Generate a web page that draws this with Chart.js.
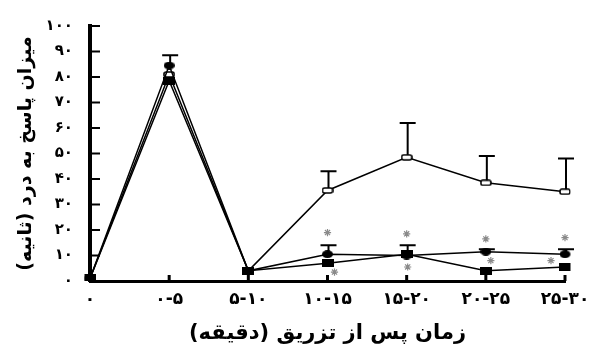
<!DOCTYPE html>
<html>
<head>
<meta charset="utf-8">
<script src="https://cdn.jsdelivr.net/npm/chart.js@4.4.1/dist/chart.umd.min.js"></script>
<style>
  html, body { margin: 0; padding: 0; background: #fff; }
  #wrap { width: 591px; height: 353px; }
</style>
</head>
<body>
<div id="wrap"><canvas id="c" width="591" height="353"></canvas></div>
<script>
// Time windows after injection (minutes)
const categories = ['۰', '۰-۵', '۵-۱۰', '۱۰-۱۵', '۱۵-۲۰', '۲۰-۲۵', '۲۵-۳۰'];
const yTickLabels = ['۰', '۱۰', '۲۰', '۳۰', '۴۰', '۵۰', '۶۰', '۷۰', '۸۰', '۹۰', '۱۰۰'];

// Pain response (seconds), mean and upper error
const openValues         = [1, 81, 4, 35.5, 48.5, 38.5, 35];
const openErrors         = [0, 0, 0, 7.5, 13.5, 10.5, 13];
const filledCircleValues = [1, 84.5, 4, 10.5, 10, 11.5, 10.5];
const filledCircleErrors = [0, 4, 0, 3.5, 0, 1, 2];
const filledSquareValues = [1, 78.5, 4, 7, 10.5, 4, 5.5];
const filledSquareErrors = [0, 0, 0, 0, 3.5, 0, 0];

// Significance marks (y value of each asterisk)
const starUpper = [null, null, null, 19, 18.5, 16.5, 17];
const starLower = [null, null, null, 3.5, 5.5, 8, 8];
const starLowerShift = [0, 0, 0, 7, 1, 5, -14];

const yTitle = '\u200Fمیزان پاسخ به درد (ثانیه)\u200F';
const xTitle = '\u200Fزمان پس از تزریق (دقیقه)\u200F';

function makeMarker(w, h, paint) {
  const c = document.createElement('canvas');
  c.width = w; c.height = h;
  paint(c.getContext('2d'), w, h);
  return c;
}
const openMarker = makeMarker(12, 7, (g, w, h) => {
  g.fillStyle = '#fff'; g.strokeStyle = '#000'; g.lineWidth = 1.6;
  g.beginPath(); g.roundRect(1, 1, w - 2, h - 2, 2); g.fill(); g.stroke();
});
const circleMarker = makeMarker(11, 8, (g, w, h) => {
  g.fillStyle = '#000';
  g.beginPath(); g.ellipse(w / 2, h / 2, w / 2, h / 2, 0, 0, Math.PI * 2); g.fill();
});
const squareMarker = makeMarker(12, 8, (g, w, h) => {
  g.fillStyle = '#000'; g.fillRect(0, 0, w, h);
});

const errorBars = {
  id: 'errorBars',
  beforeDatasetsDraw(chart) {
    const { ctx, scales: { y } } = chart;
    ctx.save();
    ctx.strokeStyle = '#000';
    ctx.lineWidth = 2;
    chart.data.datasets.forEach((ds, di) => {
      if (!ds.errors) return;
      const meta = chart.getDatasetMeta(di);
      ds.errors.forEach((e, i) => {
        if (!e) return;
        const x = meta.data[i].x + 1;
        const y0 = y.getPixelForValue(ds.data[i]);
        const y1 = y.getPixelForValue(ds.data[i] + e);
        ctx.beginPath();
        ctx.moveTo(x, y0); ctx.lineTo(x, y1);
        ctx.moveTo(x - 8, y1); ctx.lineTo(x + 8, y1);
        ctx.stroke();
      });
    });
    ctx.restore();
  }
};

const axisMarks = {
  id: 'axisMarks',
  afterDraw(chart) {
    const { ctx, chartArea: a, scales: { x, y } } = chart;
    ctx.save();
    ctx.strokeStyle = '#000';
    ctx.lineWidth = 2;
    y.ticks.forEach(t => {
      const py = y.getPixelForValue(t.value);
      ctx.beginPath(); ctx.moveTo(a.left, py); ctx.lineTo(a.left + 10, py); ctx.stroke();
    });
    ctx.lineWidth = 3;
    categories.forEach((c, i) => {
      const px = x.getPixelForValue(i);
      ctx.beginPath(); ctx.moveTo(px, a.bottom); ctx.lineTo(px, a.bottom - 6); ctx.stroke();
    });
    // asterisks
    ctx.strokeStyle = '#8a8a8a';
    ctx.lineWidth = 1.2;
    const star = (cx, cy) => {
      const r = 3.6;
      ctx.beginPath();
      for (let k = 0; k < 4; k++) {
        const ang = k * Math.PI / 4;
        ctx.moveTo(cx - r * Math.cos(ang), cy - r * Math.sin(ang));
        ctx.lineTo(cx + r * Math.cos(ang), cy + r * Math.sin(ang));
      }
      ctx.stroke();
    };
    categories.forEach((c, i) => {
      const px = x.getPixelForValue(i);
      if (starUpper[i] != null) star(px, y.getPixelForValue(starUpper[i]));
      if (starLower[i] != null) star(px + starLowerShift[i], y.getPixelForValue(starLower[i]));
    });
    ctx.restore();
  }
};

Chart.defaults.font.family = "'DejaVu Sans', sans-serif";
Chart.defaults.font.weight = 'bold';
Chart.defaults.color = '#000';

new Chart(document.getElementById('c'), {
  type: 'line',
  data: {
    labels: categories,
    datasets: [
      { data: filledSquareValues, errors: filledSquareErrors, pointStyle: squareMarker,
        borderColor: '#000', borderWidth: 1.5, tension: 0 },
      { data: filledCircleValues, errors: filledCircleErrors, pointStyle: circleMarker,
        borderColor: '#000', borderWidth: 1.5, tension: 0 },
      { data: openValues, errors: openErrors, pointStyle: openMarker,
        borderColor: '#000', borderWidth: 1.5, tension: 0 }
    ]
  },
  options: {
    responsive: false,
    animation: false,
    layout: { padding: { top: 16, right: 26, bottom: 0, left: 0 } },
    plugins: { legend: { display: false }, tooltip: { enabled: false } },
    scales: {
      x: {
        offset: false,
        grid: { display: false, drawTicks: false },
        border: { display: true, width: 3, color: '#000' },
        ticks: { padding: 8, font: { size: 17, weight: 'bold' }, maxRotation: 0, autoSkip: false },
        title: { display: true, text: xTitle, font: { size: 21, weight: 'bold' }, padding: { top: 0, bottom: 7 } },
        afterFit(s) { s.height = 72; s.paddingLeft = 0; s.paddingRight = 0; }
      },
      y: {
        min: 0, max: 100,
        grid: { display: false, drawTicks: false },
        border: { display: true, width: 4, color: '#000' },
        ticks: { stepSize: 10, padding: 17, font: { size: 15, weight: 'bold' },
                 callback: (v, i) => yTickLabels[i] },
        title: { display: true, text: yTitle, font: { size: 19, weight: 'bold' }, padding: { top: 15, bottom: 0 } },
        afterFit(s) { s.width = 90; }
      }
    }
  },
  plugins: [errorBars, axisMarks]
});
</script>
</body>
</html>
